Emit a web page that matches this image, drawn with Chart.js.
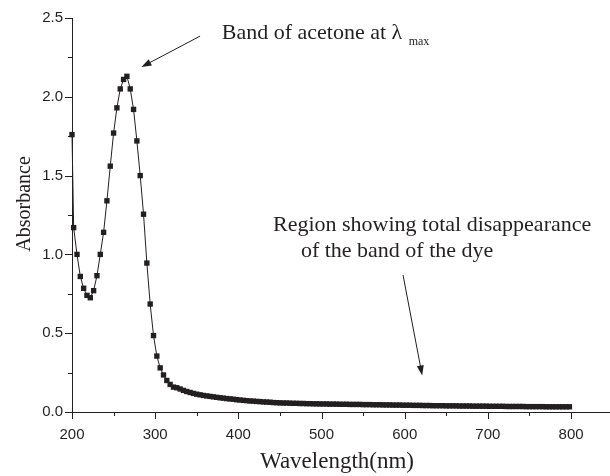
<!DOCTYPE html>
<html>
<head>
<meta charset="utf-8">
<script src="https://cdn.jsdelivr.net/npm/chart.js@4"></script>
<style>
  html, body { margin: 0; padding: 0; background: #fff; }
  #wrap { width: 610px; height: 476px; }
</style>
</head>
<body>
<div id="wrap"><canvas id="spectrumChart" width="610" height="476"></canvas></div>
<script>
// wavelength (nm) of each measured point
const wavelengths = [
  200, 202, 206, 210, 214, 218, 222, 226, 230, 234, 238, 242, 246, 250, 254, 258, 262, 266, 270, 274,
  278, 282, 286, 290, 294, 298, 302, 306, 310, 314, 318, 322, 326, 330, 334, 338, 342, 346, 350, 354,
  358, 362, 366, 370, 374, 378, 382, 386, 390, 394, 398, 402, 406, 410, 414, 418, 422, 426, 430, 434,
  438, 442, 446, 450, 454, 458, 462, 466, 470, 474, 478, 482, 486, 490, 494, 498, 502, 506, 510, 514,
  518, 522, 526, 530, 534, 538, 542, 546, 550, 554, 558, 562, 566, 570, 574, 578, 582, 586, 590, 594,
  598, 602, 606, 610, 614, 618, 622, 626, 630, 634, 638, 642, 646, 650, 654, 658, 662, 666, 670, 674,
  678, 682, 686, 690, 694, 698, 702, 706, 710, 714, 718, 722, 726, 730, 734, 738, 742, 746, 750, 754,
  758, 762, 766, 770, 774, 778, 782, 786, 790, 794, 798
];

// absorbance
const absorbance = [
  1.76, 1.17, 1.00, 0.86, 0.785, 0.74, 0.725, 0.77, 0.865, 1.00, 1.14, 1.34, 1.56, 1.77, 1.93, 2.05, 2.11, 2.13, 2.05, 1.92,
  1.72, 1.50, 1.255, 0.945, 0.685, 0.485, 0.355, 0.28, 0.235, 0.20, 0.175, 0.158, 0.154, 0.146, 0.137, 0.130, 0.124, 0.118, 0.113, 0.109,
  0.105, 0.102, 0.099, 0.096, 0.093, 0.090, 0.088, 0.085, 0.083, 0.081, 0.078, 0.076, 0.074, 0.072, 0.070, 0.069, 0.067, 0.066, 0.064, 0.063,
  0.062, 0.060, 0.059, 0.058, 0.057, 0.057, 0.056, 0.055, 0.055, 0.054, 0.054, 0.053, 0.053, 0.052, 0.052, 0.051, 0.051, 0.051, 0.050, 0.050,
  0.050, 0.049, 0.049, 0.049, 0.048, 0.048, 0.048, 0.048, 0.047, 0.047, 0.047, 0.046, 0.046, 0.046, 0.045, 0.045, 0.045, 0.044, 0.044, 0.044,
  0.043, 0.043, 0.043, 0.042, 0.042, 0.042, 0.041, 0.041, 0.041, 0.040, 0.040, 0.040, 0.040, 0.039, 0.039, 0.039, 0.039, 0.038, 0.038, 0.038,
  0.038, 0.037, 0.037, 0.037, 0.037, 0.037, 0.036, 0.036, 0.036, 0.036, 0.036, 0.035, 0.035, 0.035, 0.035, 0.035, 0.035, 0.034, 0.034, 0.034,
  0.034, 0.034, 0.034, 0.033, 0.033, 0.033, 0.033, 0.033, 0.033, 0.033, 0.033
];

// axis ticks (major ones get labels)
const xTicks = [200, 250, 300, 350, 400, 450, 500, 550, 600, 650, 700, 750, 800];
const xLabels = [200, 300, 400, 500, 600, 700, 800];
const yTicks = [0, 0.25, 0.5, 0.75, 1.0, 1.25, 1.5, 1.75, 2.0, 2.25, 2.5];
const yLabels = [0, 0.5, 1.0, 1.5, 2.0, 2.5];

const xTitle = 'Wavelength(nm)';
const yTitle = 'Absorbance';

const INK = '#231f20';
const SERIF = '"Liberation Serif", "Times New Roman", serif';
const SANS = '"Liberation Sans", Arial, sans-serif';

// tick marks + titles + the two callouts
const decorations = {
    id: 'decorations',
    afterDraw(chart) {
        const ctx = chart.ctx;
        const xs = chart.scales.x;
        const ys = chart.scales.y;
        const area = chart.chartArea;
        ctx.save();
        ctx.strokeStyle = INK;
        ctx.lineWidth = 1;

        // x axis line runs out to the page edge
        ctx.beginPath();
        ctx.moveTo(area.left, Math.round(area.bottom) + 0.5);
        ctx.lineTo(chart.width, Math.round(area.bottom) + 0.5);
        ctx.stroke();

        // tick marks, outward
        ctx.beginPath();
        xTicks.forEach(v => {
            const px = Math.round(xs.getPixelForValue(v)) + 0.5;
            const len = xLabels.includes(v) ? 7 : 4;
            ctx.moveTo(px, area.bottom);
            ctx.lineTo(px, area.bottom + len);
        });
        yTicks.forEach(v => {
            const py = Math.round(ys.getPixelForValue(v)) + 0.5;
            const len = yLabels.includes(v) ? 7 : 4;
            ctx.moveTo(area.left, py);
            ctx.lineTo(area.left - len, py);
        });
        ctx.stroke();

        ctx.fillStyle = INK;

        // axis titles
        ctx.font = '23px ' + SERIF;
        ctx.textAlign = 'center';
        ctx.textBaseline = 'alphabetic';
        ctx.fillText(xTitle, 337, 468);

        ctx.save();
        ctx.translate(30, 204);
        ctx.rotate(-Math.PI / 2);
        ctx.font = '20px ' + SERIF;
        ctx.fillText(yTitle, 0, 0);
        ctx.restore();

        // callout 1: band of acetone
        ctx.textAlign = 'left';
        ctx.font = '22px ' + SERIF;
        const t1 = 'Band of acetone at \u03bb';
        const t1x = xs.getPixelForValue(380);
        const t1y = ys.getPixelForValue(2.367);
        ctx.fillText(t1, t1x, t1y);
        const w1 = ctx.measureText(t1 + ' ').width;
        ctx.font = '12px ' + SERIF;
        ctx.fillText('max', t1x + w1 + 1, t1y + 6);
        drawArrow(ctx, xs.getPixelForValue(354), ys.getPixelForValue(2.385),
                  xs.getPixelForValue(283.5), ys.getPixelForValue(2.189));

        // callout 2: region without the dye band
        ctx.font = '22px ' + SERIF;
        ctx.fillText('Region showing total disappearance', xs.getPixelForValue(441.6), ys.getPixelForValue(1.151));
        ctx.fillText('of the band of the dye', xs.getPixelForValue(475.2), ys.getPixelForValue(0.983));
        drawArrow(ctx, xs.getPixelForValue(598), ys.getPixelForValue(0.869),
                  xs.getPixelForValue(621), ys.getPixelForValue(0.232));

        ctx.restore();
    }
};

function drawArrow(ctx, x1, y1, x2, y2) {
    const ang = Math.atan2(y2 - y1, x2 - x1);
    const head = 10, half = 3.5;
    ctx.beginPath();
    ctx.moveTo(x1, y1);
    ctx.lineTo(x2 - Math.cos(ang) * head * 0.8, y2 - Math.sin(ang) * head * 0.8);
    ctx.stroke();
    ctx.beginPath();
    ctx.moveTo(x2, y2);
    ctx.lineTo(x2 - Math.cos(ang) * head + Math.sin(ang) * half, y2 - Math.sin(ang) * head - Math.cos(ang) * half);
    ctx.lineTo(x2 - Math.cos(ang) * head - Math.sin(ang) * half, y2 - Math.sin(ang) * head + Math.cos(ang) * half);
    ctx.closePath();
    ctx.fill();
}

const ctx = document.getElementById('spectrumChart').getContext('2d');
new Chart(ctx, {
    type: 'line',
    data: {
        datasets: [{
            data: wavelengths.map((w, i) => ({ x: w, y: absorbance[i] })),
            borderColor: INK,
            borderWidth: 1,
            backgroundColor: INK,
            pointStyle: 'rect',
            pointRadius: 3.8,
            pointBorderWidth: 0,
            pointBackgroundColor: INK,
            tension: 0,
            clip: false
        }]
    },
    options: {
        responsive: false,
        animation: false,
        layout: { padding: { top: 15, right: 0, left: 0, bottom: 0 } },
        plugins: {
            legend: { display: false },
            tooltip: { enabled: false }
        },
        scales: {
            x: {
                type: 'linear',
                min: 200,
                max: 842,
                afterBuildTicks: scale => { scale.ticks = xTicks.map(v => ({ value: v })); },
                afterFit: scale => { scale.height = 64; },
                grid: { display: false, drawTicks: false },
                border: { display: true, color: INK, width: 1 },
                ticks: {
                    padding: 14,
                    color: INK,
                    maxRotation: 0,
                    autoSkip: false,
                    font: { family: SANS, size: 15 },
                    callback: v => xLabels.includes(v) ? String(v) : ''
                }
            },
            y: {
                min: 0,
                max: 2.5,
                afterBuildTicks: scale => { scale.ticks = yTicks.map(v => ({ value: v })); },
                afterFit: scale => { scale.width = 72; },
                grid: { display: false, drawTicks: false },
                border: { display: true, color: INK, width: 1 },
                ticks: {
                    padding: 9,
                    color: INK,
                    autoSkip: false,
                    font: { family: SANS, size: 15 },
                    callback: v => yLabels.includes(v) ? v.toFixed(1) : ''
                }
            }
        }
    },
    plugins: [decorations]
});
</script>
</body>
</html>
